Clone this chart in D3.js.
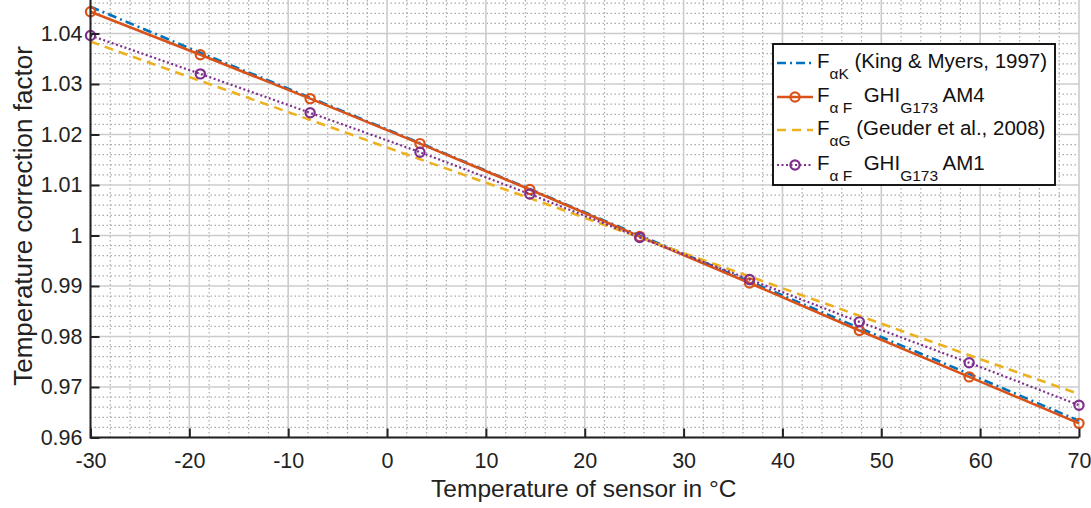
<!DOCTYPE html>
<html>
<head>
<meta charset="utf-8">
<script src="https://cdn.jsdelivr.net/npm/d3@7"></script>
<style>
  body { margin: 0; background: #fff; }
  svg { display: block; font-family: "Liberation Sans", Arial, sans-serif; }
</style>
</head>
<body>
<svg id="chart" width="1091" height="508"></svg>
<script>
// sensor temperatures (°C) where the curves are sampled
const temps = [-30, -18.89, -7.78, 3.33, 14.44, 25.56, 36.67, 47.78, 58.89, 70];

// correction factors
const kingMyers = [1.0453, 1.0362, 1.0273, 1.0183, 1.0092, 1.0000, 0.9909, 0.9817, 0.9726, 0.9633];
const fitAM4    = [1.0443, 1.0358, 1.0271, 1.0182, 1.0091, 0.9998, 0.9906, 0.9812, 0.9720, 0.9628];
const geuder    = [1.0384, 1.0306, 1.0229, 1.0151, 1.0074, 0.9996, 0.9919, 0.9841, 0.9763, 0.9686];
const fitAM1    = [1.0396, 1.0320, 1.0243, 1.0165, 1.0082, 0.9996, 0.9913, 0.9829, 0.9748, 0.9664];

const xTicks = [-30, -20, -10, 0, 10, 20, 30, 40, 50, 60, 70];
const yTicks = [0.96, 0.97, 0.98, 0.99, 1, 1.01, 1.02, 1.03, 1.04];

const series = [
  { name: "king", values: kingMyers, color: "#0072BD", dash: "9,4,2,4", width: 2.6, marker: false },
  { name: "am4", values: fitAM4, color: "#D95319", dash: null, width: 2.6, marker: true },
  { name: "geuder", values: geuder, color: "#EDB120", dash: "9,6", width: 2.6, marker: false },
  { name: "am1", values: fitAM1, color: "#7E2F8E", dash: "2,2.5", width: 2.2, marker: true }
];

const svg = d3.select("#chart");
const left = 90.5, right = 1079, bottom = 437.5;

const x = d3.scaleLinear().domain([-30, 70]).range([left, right]);
const y = d3.scaleLinear().domain([0.96, 1.04]).range([bottom, 33.5]);
const yTopVal = y.invert(0);

const g = svg.append("g");

// minor grid
const xMinor = d3.range(-30, 70.001, 2).filter(v => Math.abs(v % 10) > 0.01);
const yMinor = d3.range(0.962, yTopVal, 0.002).filter(v => Math.abs(Math.round(v * 100) - v * 100) > 0.01);

g.selectAll(".xminor").data(xMinor).enter().append("line")
  .attr("x1", d => x(d)).attr("x2", d => x(d))
  .attr("y1", 0).attr("y2", bottom)
  .attr("stroke", "#aaaaaa").attr("stroke-width", 1.2)
  .attr("stroke-dasharray", "1.5,2.5");

g.selectAll(".yminor").data(yMinor).enter().append("line")
  .attr("x1", left).attr("x2", right)
  .attr("y1", d => y(d)).attr("y2", d => y(d))
  .attr("stroke", "#aaaaaa").attr("stroke-width", 1.2)
  .attr("stroke-dasharray", "1.5,2.5");

// major grid
g.selectAll(".xmajor").data(xTicks).enter().append("line")
  .attr("x1", d => x(d)).attr("x2", d => x(d))
  .attr("y1", 0).attr("y2", bottom)
  .attr("stroke", "#cccccc").attr("stroke-width", 1.6);

g.selectAll(".ymajor").data(yTicks).enter().append("line")
  .attr("x1", left).attr("x2", right)
  .attr("y1", d => y(d)).attr("y2", d => y(d))
  .attr("stroke", "#cccccc").attr("stroke-width", 1.6);

// lines
const line = d3.line().x(d => x(d[0])).y(d => y(d[1]));
series.forEach(s => {
  const pts = temps.map((t, i) => [t, s.values[i]]);
  g.append("path")
    .datum(pts)
    .attr("d", line)
    .attr("fill", "none")
    .attr("stroke", s.color)
    .attr("stroke-width", s.width)
    .attr("stroke-dasharray", s.dash);
  if (s.marker) {
    g.selectAll(".m-" + s.name).data(pts).enter().append("circle")
      .attr("cx", d => x(d[0])).attr("cy", d => y(d[1]))
      .attr("r", 4.6)
      .attr("fill", "none")
      .attr("stroke", s.color)
      .attr("stroke-width", 2.2);
  }
});

// axes
const xAxis = d3.axisBottom(x).tickValues(xTicks).tickSize(-9).tickPadding(15).tickFormat(d => String(d));
const yAxis = d3.axisLeft(y).tickValues(yTicks).tickSize(-9).tickPadding(8).tickFormat(d => d === 1 ? "1" : d3.format(".2f")(d).replace(/0$/, ""));

const gx = svg.append("g").attr("transform", `translate(0,${bottom})`).call(xAxis);
const gy = svg.append("g").attr("transform", `translate(${left},0)`).call(yAxis);
[gx, gy].forEach(a => {
  a.select(".domain").remove();
  a.selectAll(".tick line").attr("stroke", "#222").attr("stroke-width", 2);
  a.selectAll("text").attr("fill", "#222").style("font-size", "21.5px").style("font-family", "Liberation Sans, Arial, sans-serif");
});
gx.selectAll("text").attr("dy", "0.71em");

svg.append("line").attr("x1", left).attr("x2", right).attr("y1", bottom).attr("y2", bottom)
  .attr("stroke", "#222").attr("stroke-width", 2);
svg.append("line").attr("x1", left).attr("x2", left).attr("y1", 0).attr("y2", bottom + 1)
  .attr("stroke", "#222").attr("stroke-width", 2);

// axis labels
svg.append("text")
  .attr("x", (left + right) / 2 - 1).attr("y", 497)
  .attr("text-anchor", "middle")
  .attr("fill", "#222")
  .style("font-size", "24.5px")
  .text("Temperature of sensor in °C");

svg.append("text")
  .attr("transform", "translate(32,216) rotate(-90)")
  .attr("text-anchor", "middle")
  .attr("fill", "#222")
  .style("font-size", "26px")
  .text("Temperature correction factor");

// legend
const lg = svg.append("g");
lg.append("rect")
  .attr("x", 773).attr("y", 44).attr("width", 282).attr("height", 141)
  .attr("fill", "#fff").attr("stroke", "#000").attr("stroke-width", 1.8);

const legendRows = [
  { s: series[0], cy: 63, parts: [["F", 0], ["αK", 1], [" (King & Myers, 1997)", 0]] },
  { s: series[1], cy: 97, parts: [["F", 0], ["α F", 1], ["  GHI", 0], ["G173", 1], [" AM4", 0]] },
  { s: series[2], cy: 130, parts: [["F", 0], ["αG", 1], [" (Geuder et al., 2008)", 0]] },
  { s: series[3], cy: 165, parts: [["F", 0], ["α F", 1], ["  GHI", 0], ["G173", 1], [" AM1", 0]] }
];

legendRows.forEach(r => {
  lg.append("line")
    .attr("x1", 777).attr("x2", 813).attr("y1", r.cy).attr("y2", r.cy)
    .attr("stroke", r.s.color).attr("stroke-width", r.s.width)
    .attr("stroke-dasharray", r.s.dash);
  if (r.s.marker) {
    lg.append("circle").attr("cx", 795).attr("cy", r.cy).attr("r", 4.6)
      .attr("fill", "none").attr("stroke", r.s.color).attr("stroke-width", 2.2);
  }
  const t = lg.append("text")
    .attr("x", 817).attr("y", r.cy + 5)
    .attr("fill", "#111")
    .style("font-size", "20.5px")
    .attr("xml:space", "preserve")
    .style("white-space", "pre");
  let sub = 0;
  r.parts.forEach(([txt, isSub]) => {
    const dy = isSub === sub ? 0 : (isSub ? 11 : -11);
    sub = isSub;
    t.append("tspan")
      .attr("dy", dy)
      .style("font-size", isSub ? "15.5px" : "20.5px")
      .text(txt);
  });
});
</script>
</body>
</html>
